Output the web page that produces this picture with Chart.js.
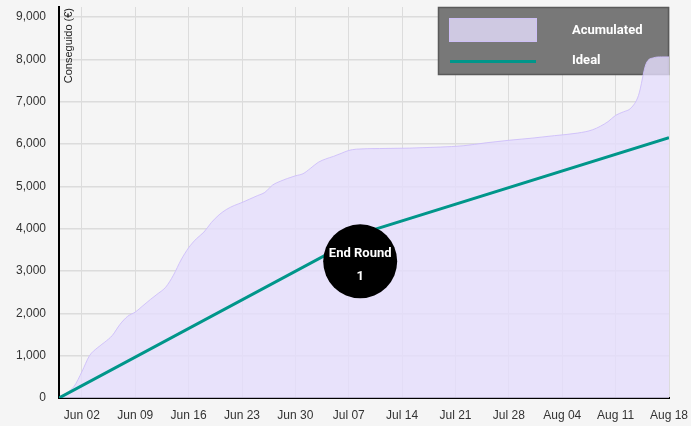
<!DOCTYPE html>
<html>
<head>
<meta charset="utf-8">
<script src="https://cdn.jsdelivr.net/npm/chart.js@4.4.0/dist/chart.umd.min.js"></script>
<style>
    html, body { margin: 0; padding: 0; background: #f5f5f5; }
    #wrap { width: 691px; height: 426px; }
</style>
</head>
<body>
<div id="wrap"><canvas id="roundChart"></canvas></div>
<script>
// x values are days counted from May 30
const xTickDays = [3, 10, 17, 24, 31, 38, 45, 52, 59, 66, 73, 80];
const xTickLabels = ["Jun 02", "Jun 09", "Jun 16", "Jun 23", "Jun 30", "Jul 07",
                     "Jul 14", "Jul 21", "Jul 28", "Aug 04", "Aug 11", "Aug 18"];
const yTickValues = [0, 1000, 2000, 3000, 4000, 5000, 6000, 7000, 8000, 9000];

const accDays = [0, 1, 2, 3, 4, 5, 6, 7, 8, 9, 10, 11, 12, 13, 14, 15, 16, 17, 18, 19,
                 20, 21, 22, 23, 24, 25, 26, 27, 28, 29, 30, 31, 32, 33, 34, 35, 36, 37, 38, 39,
                 42, 46, 50, 53, 56, 59, 62, 65, 68, 70, 72, 73, 74, 75, 76, 77, 78, 79, 80];
const accValues = [0, 120, 280, 620, 1000, 1180, 1320, 1480, 1740, 1930, 2030, 2180, 2330, 2470, 2620, 2900, 3260, 3550, 3760, 3920,
                   4150, 4330, 4460, 4550, 4620, 4700, 4780, 4860, 5030, 5120, 5190, 5250, 5300, 5430, 5570, 5650, 5710, 5780, 5850, 5880,
                   5895, 5905, 5930, 5960, 6030, 6090, 6140, 6200, 6260, 6340, 6530, 6680, 6760, 6850, 7150, 7900, 8040, 8060, 8060];

const idealDays = [0, 41, 80];
const idealValues = [0, 3960, 6150];

const roundDays = [39.5];
const roundValues = [3230];
const roundText = ["End Round", "1"];

const toPoints = (xs, ys) => xs.map((x, i) => ({ x: x, y: ys[i] }));

// legend box drawn under the datasets (the area overlaps it)
const boxLegend = {
    id: 'boxLegend',
    beforeDatasetsDraw(chart) {
        const { ctx, chartArea } = chart;
        const w = 231, h = 68;
        const x0 = chartArea.right - w, y0 = chartArea.top;
        ctx.save();
        ctx.fillStyle = '#787878';
        ctx.fillRect(x0, y0, w, h);
        ctx.strokeStyle = '#5a5a5a';
        ctx.lineWidth = 1.5;
        ctx.strokeRect(x0 + 0.5, y0 + 0.5, w - 1, h - 1);

        const acc = chart.data.datasets[2];
        const ideal = chart.data.datasets[1];
        ctx.fillStyle = acc.backgroundColor;
        ctx.fillRect(x0 + 11, y0 + 11, 88, 24);
        ctx.strokeStyle = acc.borderColor;
        ctx.lineWidth = 1;
        ctx.strokeRect(x0 + 11.5, y0 + 11.5, 87, 23);

        ctx.strokeStyle = ideal.borderColor;
        ctx.lineWidth = 3;
        ctx.beginPath();
        ctx.moveTo(x0 + 12, y0 + 54.5);
        ctx.lineTo(x0 + 98, y0 + 54.5);
        ctx.stroke();

        ctx.fillStyle = '#ffffff';
        ctx.font = 'bold 13px Roboto';
        ctx.textBaseline = 'middle';
        ctx.textAlign = 'left';
        ctx.fillText(acc.label, x0 + 134, y0 + 24);
        ctx.fillText(ideal.label, x0 + 134, y0 + 54);
        ctx.restore();
    }
};

const extras = {
    id: 'extras',
    afterDatasetsDraw(chart) {
        const { ctx, chartArea } = chart;
        ctx.save();
        // round marker text
        const pt = chart.getDatasetMeta(0).data[0];
        ctx.fillStyle = '#ffffff';
        ctx.font = 'bold 13px Roboto';
        ctx.textAlign = 'center';
        ctx.textBaseline = 'middle';
        ctx.fillText(roundText[0], pt.x, pt.y - 8);
        ctx.fillText(roundText[1], pt.x, pt.y + 15);

        // y axis title, inside the plot area
        ctx.translate(chartArea.left + 10, chartArea.top + 1);
        ctx.rotate(-Math.PI / 2);
        ctx.fillStyle = '#222';
        ctx.font = '11px "Liberation Sans"';
        ctx.textAlign = 'right';
        ctx.fillText('Conseguido (€)', 0, 0);
        ctx.restore();
    }
};

new Chart(document.getElementById('roundChart'), {
    type: 'line',
    data: {
        datasets: [
            {
                label: 'End Round',
                data: toPoints(roundDays, roundValues),
                showLine: false,
                pointRadius: 37,
                pointHoverRadius: 37,
                pointBackgroundColor: '#000',
                pointBorderWidth: 0,
                order: 0
            },
            {
                label: 'Ideal',
                data: toPoints(idealDays, idealValues),
                borderColor: '#00968a',
                borderWidth: 3,
                fill: false,
                tension: 0,
                pointRadius: 0,
                order: 1
            },
            {
                label: 'Acumulated',
                data: toPoints(accDays, accValues),
                borderColor: 'rgba(205,190,250,0.9)',
                backgroundColor: 'rgba(229,221,253,0.8)',
                borderWidth: 1,
                fill: 'origin',
                cubicInterpolationMode: 'monotone',
                pointRadius: 0,
                order: 2
            }
        ]
    },
    options: {
        responsive: true,
        maintainAspectRatio: false,
        animation: false,
        layout: { autoPadding: false, padding: { top: 7, right: 22, left: 0, bottom: 0 } },
        plugins: {
            legend: { display: false },
            tooltip: { enabled: false }
        },
        scales: {
            x: {
                type: 'linear',
                min: 0,
                max: 80,
                afterBuildTicks: (scale) => { scale.ticks = xTickDays.map(v => ({ value: v })); },
                afterFit: (scale) => {
                    scale.height = 28;
                    scale.paddingLeft = 0;
                    scale.paddingRight = 0;
                },
                grid: { color: '#dcdcdc', lineWidth: 1, drawTicks: false },
                border: { color: '#000', width: 2 },
                ticks: {
                    padding: 10,
                    color: '#333',
                    font: { family: 'Liberation Sans', size: 12 },
                    maxRotation: 0,
                    autoSkip: false,
                    callback: (v) => xTickLabels[xTickDays.indexOf(v)]
                }
            },
            y: {
                min: 0,
                max: 9240,
                afterBuildTicks: (scale) => { scale.ticks = yTickValues.map(v => ({ value: v })); },
                afterFit: (scale) => {
                    scale.width = 59;
                    scale.paddingTop = 0;
                    scale.paddingBottom = 0;
                },
                grid: { color: '#dcdcdc', lineWidth: 1.5, drawTicks: false },
                border: { color: '#000', width: 2 },
                ticks: {
                    padding: 13,
                    color: '#333',
                    autoSkip: false,
                    font: { family: 'Liberation Sans', size: 12 },
                    callback: (v) => v.toLocaleString('en-US')
                }
            }
        }
    },
    plugins: [boxLegend, extras]
});
</script>
</body>
</html>
